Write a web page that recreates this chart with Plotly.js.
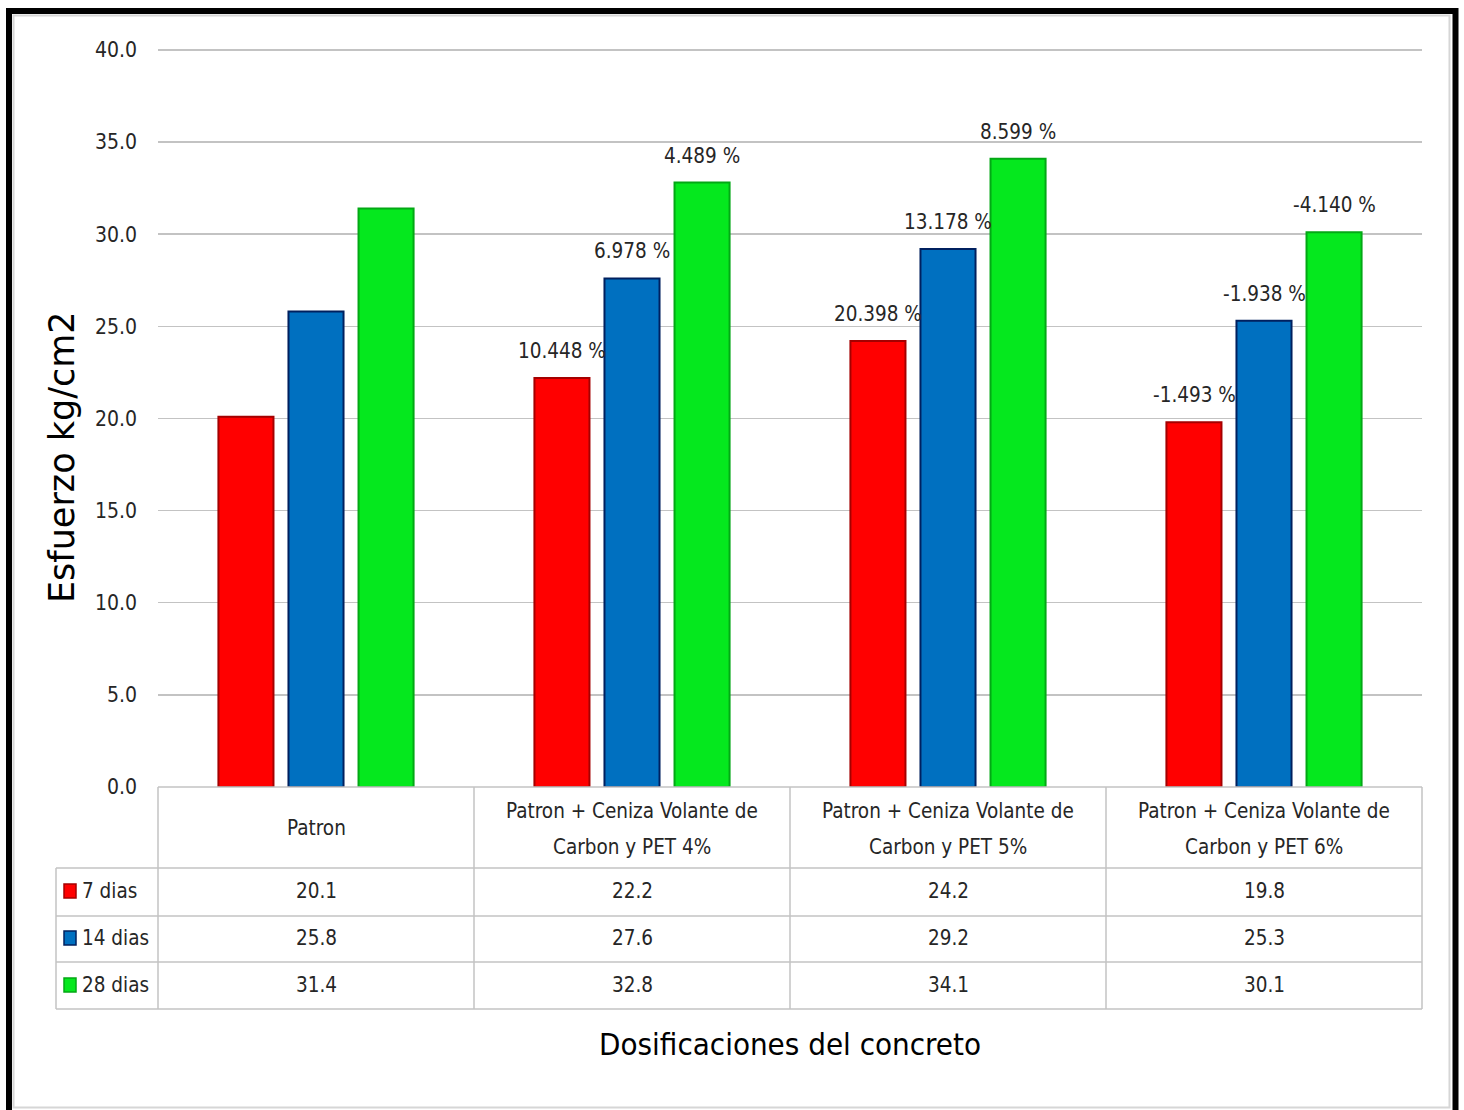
<!DOCTYPE html>
<html>
<head>
<meta charset="utf-8">
<script src="https://cdn.plot.ly/plotly-3.0.1.min.js"></script>
<style>body{margin:0;background:#fff}</style>
</head>
<body>
<div id="chart" style="width:1464px;height:1110px"></div>
<script>
// ---------- data ----------
const categories = [
  "Patron",
  "Patron + Ceniza Volante de Carbon y PET 4%",
  "Patron + Ceniza Volante de Carbon y PET 5%",
  "Patron + Ceniza Volante de Carbon y PET 6%"
];
const categoryLabels = [
  ["Patron"],
  ["Patron + Ceniza Volante de", "Carbon y PET 4%"],
  ["Patron + Ceniza Volante de", "Carbon y PET 5%"],
  ["Patron + Ceniza Volante de", "Carbon y PET 6%"]
];
const seriesNames = ["7 dias", "14 dias", "28 dias"];
const dias7  = [20.1, 22.2, 24.2, 19.8];
const dias14 = [25.8, 27.6, 29.2, 25.3];
const dias28 = [31.4, 32.8, 34.1, 30.1];
const pct7  = ["", "10.448 %", "20.398 %", "-1.493 %"];
const pct14 = ["", "6.978 %", "13.178 %", "-1.938 %"];
const pct28 = ["", "4.489 %", "8.599 %", "-4.140 %"];
const yTicks = [0, 5, 10, 15, 20, 25, 30, 35, 40];
const yTitle = "Esfuerzo kg/cm2";
const xTitle = "Dosificaciones del concreto";

// ---------- styles ----------
const W = 1464, H = 1110;
const L = 158, R = 42, T = 47, B = 323;
const plotW = W - L - R, plotH = H - T - B;
const px = x => (x - L) / plotW;          // pixel -> paper x
const py = y => (H - B - y) / plotH;      // pixel -> paper y
const narrow = "Liberation Sans Narrow, DejaVu Sans Condensed, Arial Narrow, sans-serif";
const fs = 20.5;
const txtColor = "#262626";
const gridColor = "#c3c3c3";
const fills = ["#ff0000", "#0070c0", "#05e81e"];
const edges = ["#a50000", "#00205f", "#03a815"];
const series = [dias7, dias14, dias28];
const pcts = [pct7, pct14, pct28];
const offsets = [-70, 0, 70];

const traces = series.map((vals, i) => ({
  type: "bar",
  name: seriesNames[i],
  x: categories,
  y: vals,
  marker: {color: fills[i], line: {color: edges[i], width: 2}},
  hoverinfo: "x+y+name"
}));

const annotations = [];
const shapes = [];

// percentage labels above bars
pcts.forEach((arr, i) => {
  arr.forEach((t, j) => {
    if (!t) return;
    annotations.push({
      x: categories[j], y: series[i][j], xref: "x", yref: "y",
      xshift: offsets[i], yshift: 13, yanchor: "bottom", showarrow: false,
      text: t, font: {family: narrow, size: fs, color: txtColor}
    });
  });
});

// data table
const colX = [158, 474, 790, 1106, 1422];
const rowY = [868, 916, 962, 1009];
const line = {color: gridColor, width: 1.5};
shapes.push({type: "line", xref: "paper", yref: "paper", x0: px(158), x1: px(1422), y0: py(787), y1: py(787), line});
rowY.forEach(y => shapes.push({type: "line", xref: "paper", yref: "paper", x0: px(56), x1: px(1422), y0: py(y), y1: py(y), line}));
shapes.push({type: "line", xref: "paper", yref: "paper", x0: px(56), x1: px(56), y0: py(868), y1: py(1009), line});
colX.forEach(x => shapes.push({type: "line", xref: "paper", yref: "paper", x0: px(x), x1: px(x), y0: py(787), y1: py(1009), line}));

// header labels
categoryLabels.forEach((lines, j) => {
  const ys = lines.length === 1 ? [828] : [811, 847];
  lines.forEach((lab, k) => {
    annotations.push({
      xref: "paper", yref: "paper", x: px((colX[j] + colX[j + 1]) / 2), y: py(ys[k]),
      xanchor: "center", yanchor: "middle", showarrow: false,
      text: lab, font: {family: narrow, size: fs, color: txtColor}
    });
  });
});
// rows
const rowCenters = [891, 938, 985];
series.forEach((vals, i) => {
  shapes.push({type: "rect", xref: "paper", yref: "paper",
    x0: px(64), x1: px(76), y0: py(rowCenters[i] - 7), y1: py(rowCenters[i] + 7),
    fillcolor: fills[i], line: {color: edges[i], width: 1.5}});
  annotations.push({
    xref: "paper", yref: "paper", x: px(80), y: py(rowCenters[i]),
    xanchor: "left", yanchor: "middle", showarrow: false,
    text: seriesNames[i], font: {family: narrow, size: fs, color: txtColor}
  });
  vals.forEach((v, j) => {
    annotations.push({
      xref: "paper", yref: "paper", x: px((colX[j] + colX[j + 1]) / 2), y: py(rowCenters[i]),
      xanchor: "center", yanchor: "middle", showarrow: false,
      text: v.toFixed(1), font: {family: narrow, size: fs, color: txtColor}
    });
  });
});

// y title (centred over plot + table, like the original)
annotations.push({
  xref: "paper", yref: "paper", x: px(62), y: py(457), textangle: -90,
  xanchor: "center", yanchor: "middle", showarrow: false,
  text: yTitle, font: {family: "DejaVu Sans, sans-serif", size: 35, color: "#000000"}
});

// outer frame
shapes.push({type: "rect", xref: "paper", yref: "paper", x0: px(13.5), x1: px(1449.5), y0: py(15.5), y1: py(1107.5),
  line: {color: "#d6d6d6", width: 2}, fillcolor: "rgba(0,0,0,0)"});
shapes.push({type: "rect", xref: "paper", yref: "paper", x0: px(9), x1: px(1455.5), y0: py(11), y1: py(1125),
  line: {color: "#000000", width: 6}, fillcolor: "rgba(0,0,0,0)"});

const layout = {
  width: W, height: H,
  margin: {l: L, r: R, t: T, b: B},
  paper_bgcolor: "#ffffff", plot_bgcolor: "#ffffff",
  showlegend: false,
  barmode: "group",
  bargap: 0.335,
  bargroupgap: 0.214,
  xaxis: {
    type: "category", showticklabels: false, showgrid: false, zeroline: false, showline: false,
    ticks: "", fixedrange: true,
    title: {text: xTitle, standoff: 246,
      font: {family: narrow, size: 31, color: "#000000"}}
  },
  yaxis: {
    range: [0, 40.16], tickvals: yTicks, ticktext: yTicks.map(v => v.toFixed(1)),
    showgrid: true, gridcolor: gridColor, gridwidth: 1.5, zeroline: false, showline: false,
    ticks: "", ticklabelstandoff: 20,
    tickfont: {family: narrow, size: 21, color: txtColor}
  },
  annotations, shapes
};

Plotly.newPlot("chart", traces, layout, {displayModeBar: false, staticPlot: true});
</script>
</body>
</html>
